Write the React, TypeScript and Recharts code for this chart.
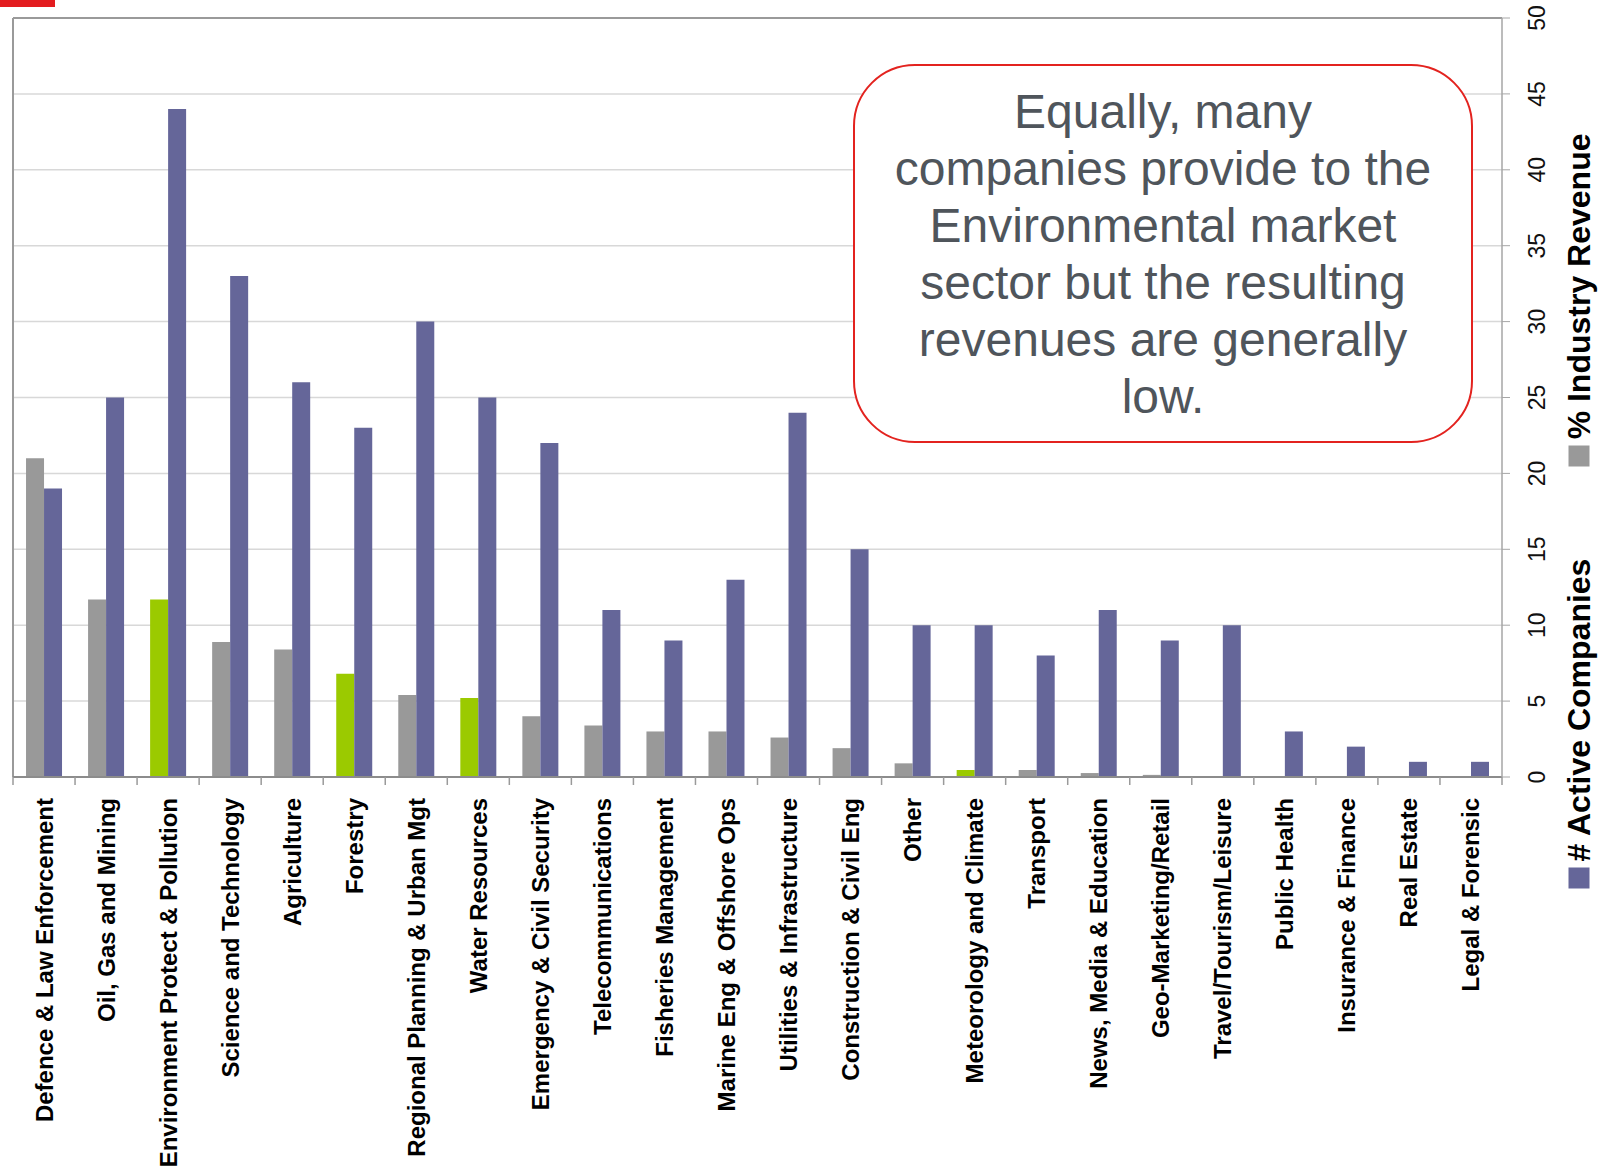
import React from 'react';
import { BarChart, Bar, XAxis, YAxis, CartesianGrid, ReferenceLine, Cell } from 'recharts';

const categories = [
  'Defence & Law Enforcement',
  'Oil, Gas and Mining',
  'Environment Protect & Pollution',
  'Science and Technology',
  'Agriculture',
  'Forestry',
  'Regional Planning & Urban Mgt',
  'Water Resources',
  'Emergency & Civil Security',
  'Telecommunications',
  'Fisheries Management',
  'Marine Eng & Offshore Ops',
  'Utilities & Infrastructure',
  'Construction & Civil Eng',
  'Other',
  'Meteorology and Climate',
  'Transport',
  'News, Media & Education',
  'Geo-Marketing/Retail',
  'Travel/Tourism/Leisure',
  'Public Health',
  'Insurance & Finance',
  'Real Estate',
  'Legal & Forensic',
];

// % Industry Revenue
const revenue = [21, 11.7, 11.7, 8.9, 8.4, 6.8, 5.4, 5.2, 4.0, 3.4, 3.0, 3.0, 2.6, 1.9, 0.9, 0.46, 0.46, 0.26, 0.14, 0, 0, 0, 0, 0];

// # Active Companies
const companies = [19, 25, 44, 33, 26, 23, 30, 25, 22, 11, 9, 13, 24, 15, 10, 10, 8, 11, 9, 10, 3, 2, 1, 1];

// sectors whose revenue bar is drawn in green
const highlighted = ['Environment Protect & Pollution', 'Forestry', 'Water Resources', 'Meteorology and Climate'];

const yTicks = [0, 5, 10, 15, 20, 25, 30, 35, 40, 45, 50];

const legendItems = [
  { label: '# Active Companies', color: '#656699' },
  { label: '% Industry Revenue', color: '#999999' },
];

const calloutLines = [
  'Equally, many',
  'companies provide to the',
  'Environmental market',
  'sector but the resulting',
  'revenues are generally',
  'low.',
];

const data = categories.map((name, i) => ({
  name,
  revenue: revenue[i],
  companies: companies[i],
}));

const W = 1601;
const H = 1170;
const MARGIN = { top: 18, right: 0, bottom: 0, left: 13 };
const Y_AXIS_W = 99;
const X_AXIS_H = 393;
const PLOT_W = W - MARGIN.left - MARGIN.right - Y_AXIS_W;
const HALF_BAND = PLOT_W / categories.length / 2;

const FONT = '"Liberation Sans", Arial, Helvetica, sans-serif';
const GREY = '#999999';
const GREEN = '#9bca00';
const PURPLE = '#656699';

const XTick = (props: any) => {
  const { x, y, payload, index } = props;
  const ly = y + 21;
  return (
    <g>
      <line x1={x - HALF_BAND} x2={x - HALF_BAND} y1={y} y2={y + 8} stroke="#9a9a9a" strokeWidth={1.5} />
      {index === categories.length - 1 && (
        <line x1={x + HALF_BAND} x2={x + HALF_BAND} y1={y} y2={y + 8} stroke="#9a9a9a" strokeWidth={1.5} />
      )}
      <text
        x={x}
        y={ly}
        transform={`rotate(-90, ${x}, ${ly})`}
        textAnchor="end"
        dominantBaseline="central"
        fontFamily={FONT}
        fontWeight="bold"
        fontSize={24}
        fill="#000"
      >
        {payload.value}
      </text>
    </g>
  );
};

const YTick = (props: any) => {
  const { x, y, payload } = props;
  const cx = x + 27;
  return (
    <text
      x={cx}
      y={y}
      transform={`rotate(-90, ${cx}, ${y})`}
      textAnchor="middle"
      dominantBaseline="central"
      fontFamily={FONT}
      fontSize={23}
      fill="#111"
    >
      {payload.value}
    </text>
  );
};

export default function App() {
  return (
    <div style={{ position: 'absolute', left: 0, top: 0, width: W, height: H, background: '#fff', overflow: 'hidden' }}>
      <div style={{ position: 'absolute', left: 0, top: 0, width: 55, height: 7, background: '#e31c1f' }} />
      <BarChart width={W} height={H} data={data} margin={MARGIN} barGap={0} barCategoryGap="21%">
        <CartesianGrid yAxisId="right" vertical={false} stroke="#d8d8d8" strokeWidth={1.5} />
        {/* left border of the plot area */}
        <CartesianGrid
          yAxisId="right"
          horizontal={false}
          verticalCoordinatesGenerator={({ offset }: any) => [offset.left]}
          stroke="#9a9a9a"
          strokeWidth={2}
        />
        <XAxis
          dataKey="name"
          interval={0}
          height={X_AXIS_H}
          tickSize={0}
          tickMargin={0}
          tickLine={false}
          axisLine={{ stroke: '#8c8c8c', strokeWidth: 2 }}
          tick={<XTick />}
        />
        <YAxis
          yAxisId="right"
          orientation="right"
          width={Y_AXIS_W}
          domain={[0, 50]}
          ticks={yTicks}
          interval={0}
          tickSize={8}
          tickMargin={0}
          tickLine={{ stroke: '#a6a6a6' }}
          axisLine={{ stroke: '#a6a6a6', strokeWidth: 1.5 }}
          tick={<YTick />}
        />
        <ReferenceLine yAxisId="right" y={50} stroke="#9a9a9a" strokeWidth={2} />
        <Bar yAxisId="right" dataKey="revenue" fill={GREY} isAnimationActive={false}>
          {data.map((d) => (
            <Cell key={d.name} fill={highlighted.includes(d.name) ? GREEN : GREY} />
          ))}
        </Bar>
        <Bar yAxisId="right" dataKey="companies" fill={PURPLE} isAnimationActive={false} />
      </BarChart>

      {/* legend, rotated to read bottom-to-top */}
      <div
        style={{
          position: 'absolute',
          left: 1578 - 377.5,
          top: 510.5 - 18,
          width: 755,
          height: 36,
          transform: 'rotate(-90deg)',
          transformOrigin: 'center',
          display: 'flex',
          alignItems: 'center',
          justifyContent: 'space-between',
          fontFamily: FONT,
          fontWeight: 'bold',
          fontSize: 32,
          color: '#000',
          whiteSpace: 'nowrap',
        }}
      >
        {legendItems.map((it) => (
          <div key={it.label} style={{ display: 'flex', alignItems: 'center' }}>
            <span style={{ display: 'inline-block', width: 21, height: 21, background: it.color, marginRight: 6 }} />
            <span>{it.label}</span>
          </div>
        ))}
      </div>

      {/* callout */}
      <div
        style={{
          position: 'absolute',
          left: 853,
          top: 64,
          width: 620,
          height: 379,
          boxSizing: 'border-box',
          border: '2px solid #e3231f',
          borderRadius: 62,
          background: '#fff',
          paddingTop: 17,
          textAlign: 'center',
          fontFamily: FONT,
          fontSize: 48,
          lineHeight: '57px',
          color: '#4f555b',
          whiteSpace: 'nowrap',
        }}
      >
        {calloutLines.map((l) => (
          <div key={l}>{l}</div>
        ))}
      </div>
    </div>
  );
}
